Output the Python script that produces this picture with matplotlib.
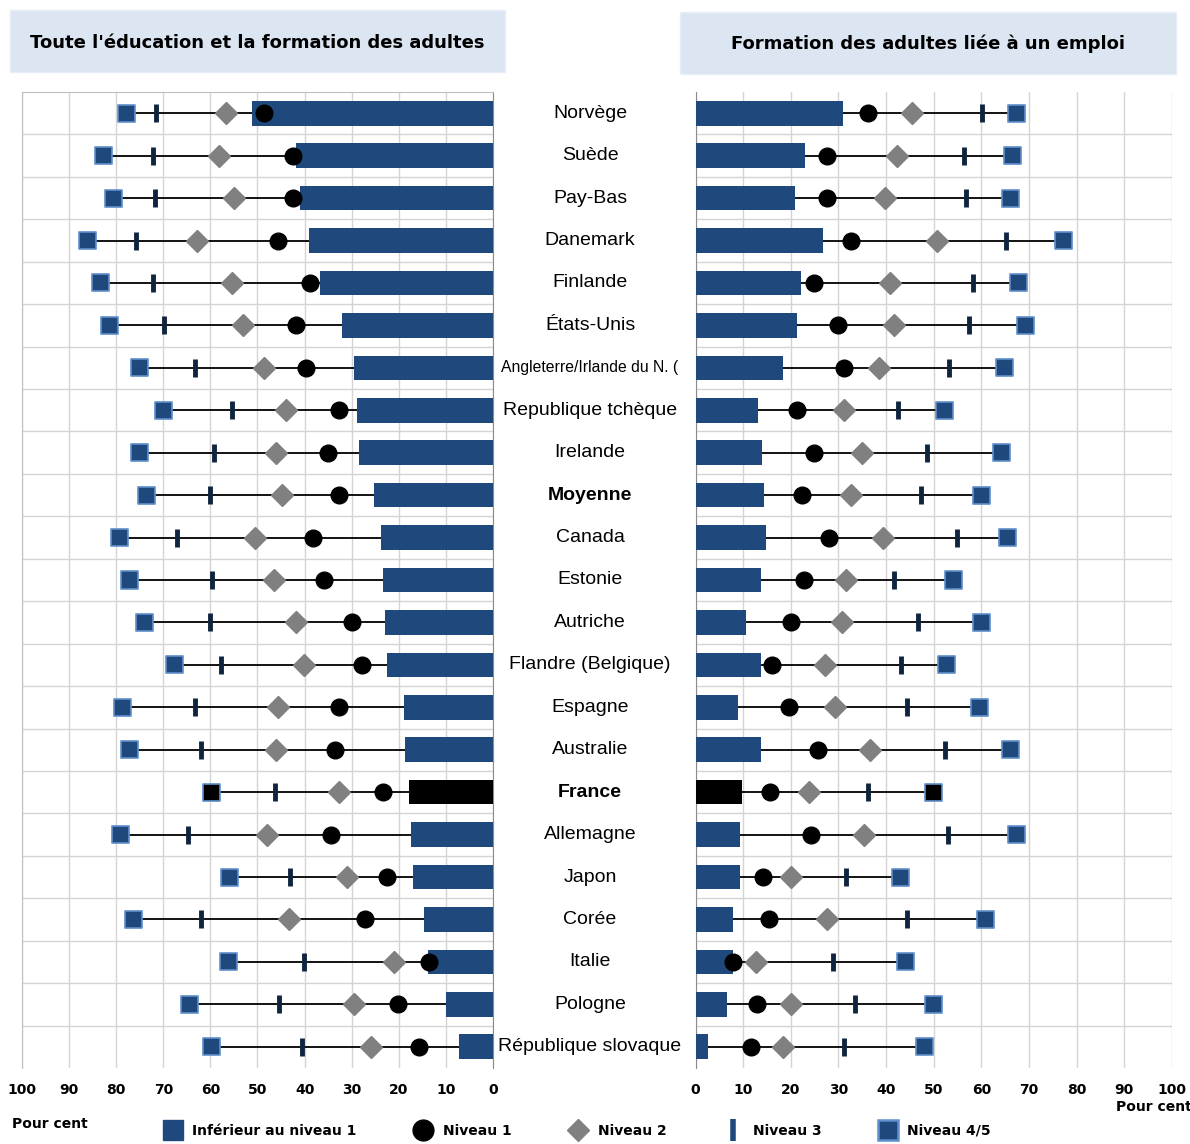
import numpy as np
import matplotlib
matplotlib.use("Agg")
import matplotlib.pyplot as plt
from matplotlib.patches import Rectangle
from matplotlib.lines import Line2D
from matplotlib.transforms import blended_transform_factory

pays = ["Norvège", "Suède", "Pay-Bas", "Danemark", "Finlande", "États-Unis",
        "Angleterre/Irlande du N. (", "Republique tchèque", "Irelande", "Moyenne",
        "Canada", "Estonie", "Autriche", "Flandre (Belgique)", "Espagne", "Australie",
        "France", "Allemagne", "Japon", "Corée", "Italie", "Pologne", "République slovaque"]

# Toute l'éducation et la formation des adultes (%)
inf1_g = [51.2, 41.8, 40.9, 39.1, 36.7, 32.0, 29.6, 28.8, 28.4, 25.3, 23.8, 23.3,
          22.9, 22.6, 19.0, 18.6, 17.8, 17.4, 17.0, 14.7, 13.9, 10.0, 7.3]
niv1_g = [48.7, 42.5, 42.5, 45.6, 38.9, 41.8, 39.8, 32.7, 35.0, 32.7, 38.2, 35.9,
          29.9, 27.9, 32.7, 33.5, 23.3, 34.3, 22.6, 27.2, 13.5, 20.1, 15.8]
niv2_g = [56.6, 58.1, 55.0, 62.9, 55.4, 53.1, 48.7, 44.0, 46.0, 44.8, 50.6, 46.4,
          41.8, 40.1, 45.6, 46.0, 32.7, 47.9, 31.1, 43.3, 21.0, 29.5, 26.0]
niv3_g = [71.5, 72.2, 71.8, 75.7, 72.2, 69.9, 63.2, 55.4, 59.3, 60.1, 67.1, 59.7,
          60.1, 57.7, 63.2, 62.0, 46.3, 64.7, 43.2, 62.0, 40.1, 45.5, 40.5]
niv45_g = [77.8, 82.6, 80.6, 86.1, 83.3, 81.4, 75.1, 70.0, 75.1, 73.5, 79.4, 77.1,
           74.0, 67.7, 78.7, 77.1, 59.8, 79.1, 55.9, 76.3, 56.2, 64.5, 59.8]

# Formation des adultes liée à un emploi (%)
inf1_e = [31.0, 23.0, 20.9, 26.7, 22.1, 21.3, 18.3, 13.2, 14.0, 14.4, 14.8, 13.7,
          10.5, 13.7, 9.0, 13.7, 9.8, 9.3, 9.3, 7.8, 7.8, 6.7, 2.7]
niv1_e = [36.2, 27.6, 27.6, 32.7, 24.9, 30.0, 31.2, 21.2, 24.9, 22.4, 28.1, 22.7,
          20.0, 16.0, 19.6, 25.7, 15.6, 24.2, 14.2, 15.4, 7.9, 13.0, 11.6]
niv2_e = [45.5, 42.3, 39.7, 50.6, 40.9, 41.6, 38.5, 31.2, 35.0, 32.7, 39.4, 31.6,
          30.8, 27.2, 29.3, 36.6, 23.8, 35.4, 20.0, 27.6, 12.6, 20.0, 18.3]
niv3_e = [60.1, 56.3, 56.7, 65.2, 58.2, 57.4, 53.2, 42.4, 48.6, 47.4, 54.8, 41.7,
          46.6, 43.1, 44.3, 52.4, 36.2, 52.9, 31.6, 44.3, 28.9, 33.5, 31.2]
niv45_e = [67.3, 66.6, 66.1, 77.3, 67.7, 69.2, 64.9, 52.2, 64.3, 60.0, 65.4, 54.2,
           60.0, 52.7, 59.6, 66.1, 49.9, 67.3, 43.0, 60.8, 44.1, 50.0, 48.0]

BLEU = "#1F497D"
BORD = "#5F8FCC"
GRIS = "#808080"
NAVY = "#0F243E"
GRILLE = "#D4D4D4"

fig = plt.figure(figsize=(11.9, 11.44), dpi=100)
ax_g = fig.add_axes([22 / 1190, 1 - 1068 / 1144, 471 / 1190, 976 / 1144])
ax_e = fig.add_axes([695.5 / 1190, 1 - 1068 / 1144, 476.5 / 1190, 976 / 1144])

y = np.arange(len(pays))
fonce = ["black" if p == "France" else BLEU for p in pays]


def panneau(ax, inf1, n1, n2, n3, n45):
    ax.set_axisbelow(True)
    ax.hlines(y, 0, n45, color="black", lw=1.3, zorder=2)
    ax.barh(y, inf1, height=0.58, color=fonce, zorder=3)
    ax.scatter(n45, y, marker="s", s=150, c=fonce, edgecolors=BORD, linewidths=1.2, zorder=4)
    ax.plot(n3, y, ls="none", marker="|", ms=13, mew=3.5, color=NAVY, zorder=4)
    ax.plot(n2, y, ls="none", marker="D", ms=11, color=GRIS, zorder=5)
    ax.plot(n1, y, ls="none", marker="o", ms=12, color="black", zorder=6)

    ax.set_xlim(0, 100)
    ax.set_ylim(len(pays) - 0.5, -0.5)
    ax.set_xticks(np.arange(0, 101, 10))
    ax.set_yticks([])
    ax.set_yticks(np.arange(len(pays) - 1) + 0.5, minor=True)
    ax.grid(axis="x", color=GRILLE, lw=1)
    ax.grid(axis="y", which="minor", color=GRILLE, lw=1)
    ax.tick_params(axis="x", length=0, pad=11, labelsize=10)
    ax.tick_params(axis="y", which="both", length=0)
    for lab in ax.get_xticklabels():
        lab.set_fontweight("bold")
    for s in ax.spines.values():
        s.set_color("#BFBFBF")
    ax.spines["bottom"].set_visible(False)


panneau(ax_g, inf1_g, niv1_g, niv2_g, niv3_g, niv45_g)
panneau(ax_e, inf1_e, niv1_e, niv2_e, niv3_e, niv45_e)
ax_g.invert_xaxis()
ax_g.spines["right"].set_color("#8C8C8C")
ax_e.spines["left"].set_color("#8C8C8C")
ax_e.spines["right"].set_visible(False)
ax_e.spines["top"].set_visible(False)

# noms des pays au milieu
tr = blended_transform_factory(ax_e.transAxes, ax_e.transData)
for i, p in enumerate(pays):
    gras = "bold" if p in ("Moyenne", "France") else "normal"
    taille = 11.3 if i == 6 else 14
    ax_e.text(-0.2214, i, p, transform=tr, ha="center", va="center",
              fontsize=taille, fontweight=gras, family="Liberation Sans", clip_on=False)

# titres
fig.patches.append(Rectangle((10 / 1190, 1 - 72 / 1144), 495 / 1190, 62 / 1144,
                             transform=fig.transFigure, fc="#DCE6F2", ec="#E8EEF7"))
fig.patches.append(Rectangle((680 / 1190, 1 - 74 / 1144), 496 / 1190, 62 / 1144,
                             transform=fig.transFigure, fc="#DCE6F2", ec="#E8EEF7"))
titre = dict(ha="center", va="center", fontsize=13, fontweight="bold")
fig.text(257 / 1190, 1 - 43 / 1144, "Toute l'éducation et la formation des adultes", **titre)
fig.text(928 / 1190, 1 - 44 / 1144, "Formation des adultes liée à un emploi", **titre)

fig.text(12 / 1190, 1 - 1124 / 1144, "Pour cent", ha="left", va="center",
         fontsize=10, fontweight="bold")
fig.text(1192 / 1190, 1 - 1107 / 1144, "Pour cent", ha="right", va="center",
         fontsize=10, fontweight="bold")

# légende
poignees = [
    Line2D([], [], ls="none", marker="s", ms=14, mfc=BLEU, mec=BLEU),
    Line2D([], [], ls="none", marker="o", ms=15, color="black"),
    Line2D([], [], ls="none", marker="D", ms=11, color=GRIS),
    Line2D([], [], ls="none", marker="|", ms=16, mew=4, color=BLEU),
    Line2D([], [], ls="none", marker="s", ms=14, mfc=BLEU, mec=BORD, mew=1.8),
]
noms = ["Inférieur au niveau 1", "Niveau 1", "Niveau 2", "Niveau 3", "Niveau 4/5"]
fig.legend(poignees, noms, loc="center", bbox_to_anchor=(575 / 1190, 1 - 1131 / 1144),
           ncol=5, frameon=False, columnspacing=3.8, handletextpad=0.4,
           prop={"weight": "bold", "size": 10})

fig.savefig("out.png", dpi=100)
